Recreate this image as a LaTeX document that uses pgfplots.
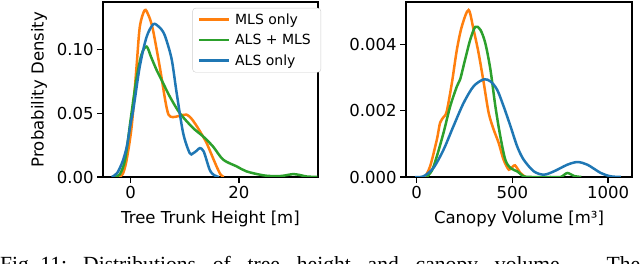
\documentclass[border=0pt]{standalone}
\usepackage{pgfplots}
\pgfplotsset{compat=1.18}
\usepackage{fontspec}
\setmainfont{DejaVu Sans}
\newfontfamily\capfont{Liberation Serif}
\definecolor{tabblue}{HTML}{1F77B4}
\definecolor{taborange}{HTML}{FF7F0E}
\definecolor{tabgreen}{HTML}{2CA02C}
\pgfplotsset{
  mystyle/.style={
    scale only axis,
    height=175bp,
    ymin=0,
    axis line style={line width=1.3bp},
    tick style={line width=1.3bp, black},
    major tick length=5.8bp,
    tick align=outside,
    xtick pos=bottom, ytick pos=left,
    scaled y ticks=false,
    /pgf/number format/assume math mode=true,
    /pgf/number format/1000 sep={},
    tick label style={font=\fontsize{16.5bp}{20bp}\selectfont},
    label style={font=\fontsize{16.5bp}{20bp}\selectfont},
    xlabel style={yshift=-5bp},
    every axis plot/.append style={line width=2.5bp, smooth},
  }
}
\begin{document}
\begin{tikzpicture}
\path[use as bounding box] (0,0) rectangle (640bp,264bp);
\begin{axis}[mystyle,
  at={(103bp,87bp)}, anchor=south west, width=215bp,
  xmin=-5.1, xmax=34.6, ymax=0.1374,
  xtick={0,20}, ytick={0,0.05,0.1},
  yticklabel style={/pgf/number format/.cd, fixed, fixed zerofill, precision=2},
  xlabel={Tree Trunk Height [m]},
  ylabel={Probability Density},
  ylabel style={yshift=3bp},
  legend style={at={(1.014,0.966)}, anchor=north east, draw=black!20, rounded corners=3bp,
    font=\fontsize{14bp}{16bp}\selectfont, row sep=4.5bp, inner xsep=5bp, inner ysep=3.5bp,
    nodes={inner xsep=5bp}},
  legend cell align=left,
  legend image code/.code={\draw[#1, smooth=false] (0bp,0bp) -- (30bp,0bp);},
]
\addplot[taborange] coordinates {(-2.2,0) (-1.5,0.002) (-0.8,0.012) (0.2,0.040) (1.1,0.087) (1.7,0.118) (2.6,0.131) (3.3,0.127) (4.1,0.116) (5.4,0.086) (6.4,0.06) (7.0,0.049) (7.8,0.047) (9.0,0.048) (10.3,0.049) (11.2,0.046) (12.2,0.040) (13.2,0.033) (14,0.027) (15,0.017) (15.9,0.008) (16.6,0.002) (17.2,0)};
\addlegendentry{MLS only}
\addplot[tabgreen] coordinates {(-3,0) (-2,0.002) (-1,0.014) (0,0.045) (1,0.075) (2,0.096) (2.95,0.1024) (3.8,0.094) (4.8,0.084) (6.0,0.0737) (7.25,0.063) (9.1,0.050) (11.55,0.0384) (13.4,0.0318) (15.2,0.024) (17.1,0.0136) (19.6,0.0083) (21.4,0.0044) (24.5,0.0013) (27,0.0006) (28.5,0.0012) (30,0.0023) (31.3,0.0015) (32.5,0.0004) (34.5,0)};
\addlegendentry{ALS + MLS}
\addplot[tabblue] coordinates {(-3.5,0) (-2.5,0.003) (-1.5,0.012) (-0.7,0.024) (0,0.042) (0.5,0.053) (1.7,0.087) (2.95,0.110) (4.2,0.120) (5.2,0.118) (6.0,0.114) (6.6,0.1076) (7.6,0.092) (8.5,0.066) (9.7,0.0345) (10.9,0.0188) (11.5,0.0185) (12.3,0.021) (12.8,0.0227) (13.5,0.020) (14.6,0.0057) (15.4,0.0015) (16.3,0)};
\addlegendentry{ALS only}
\end{axis}
\begin{axis}[mystyle,
  at={(406bp,87bp)}, anchor=south west, width=226bp,
  xmin=-56, xmax=1125, ymax=0.00527,
  xtick={0,500,1000}, ytick={0,0.002,0.004},
  yticklabel style={/pgf/number format/.cd, fixed, fixed zerofill, precision=3},
  xlabel={Canopy Volume [m³]},
]
\addplot[taborange] coordinates {(43,0) (70,0.00032) (105,0.00112) (122,0.00163) (140,0.0018) (157,0.00198) (184,0.00284) (210,0.00384) (236,0.00454) (271,0.00503) (297,0.00444) (323,0.00374) (350,0.00284) (376,0.00193) (402,0.00143) (428,0.00103) (454,0.00052) (481,0.00022) (500,0.0003) (514,0.00035) (542,0.00012) (568,0)};
\addplot[tabgreen] coordinates {(52,0) (80,0.0002) (105,0.00062) (140,0.00133) (175,0.00213) (210,0.00273) (227,0.00294) (253,0.00354) (280,0.00414) (306,0.00452) (332,0.00444) (358,0.00404) (385,0.00324) (411,0.00213) (437,0.00122) (463,0.00052) (490,0.00027) (525,0.00017) (559,0.00002) (600,0) (700,0) (752,0) (787,0.00012) (822,0.00003) (860,0)};
\addplot[tabblue] coordinates {(-9,0) (35,0.00002) (87,0.00027) (140,0.00082) (192,0.00153) (245,0.00223) (297,0.00273) (350,0.00294) (385,0.00288) (420,0.00263) (454,0.00213) (490,0.00153) (525,0.00092) (559,0.00052) (612,0.00017) (664,0.00007) (717,0.00017) (787,0.00037) (840,0.00045) (892,0.00037) (962,0.00012) (1014,0.00002) (1067,0)};
\end{axis}
\node[anchor=base west, inner sep=0pt] at (0bp,-7.5bp) {\capfont\fontsize{21.6bp}{26bp}\selectfont\makebox[640bp][s]{Fig.\kern6bp 11:\kern16bp Distributions of tree height and canopy volume. The}};
\end{tikzpicture}
\end{document}
